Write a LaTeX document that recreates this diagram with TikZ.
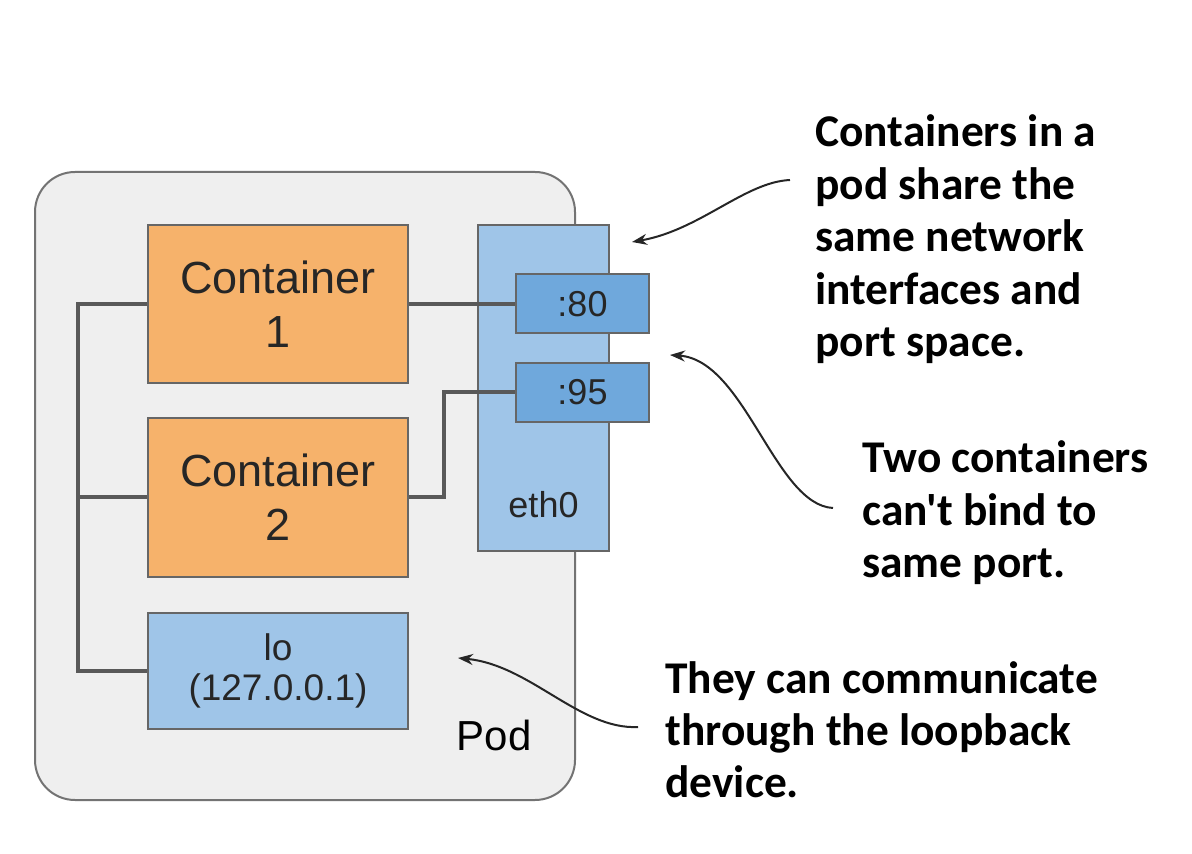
\documentclass[tikz,border=0pt]{standalone}
\usepackage{fontspec}
\setmainfont{Liberation Sans}
\newfontfamily\notefont{Carlito}
\usetikzlibrary{arrows.meta}

\definecolor{podfill}{HTML}{EFEFEF}
\definecolor{orangebox}{HTML}{F6B26B}
\definecolor{bluebox}{HTML}{9FC5E8}
\definecolor{portbox}{HTML}{6FA8DC}
\definecolor{wiregray}{HTML}{595959}

\tikzset{
  box/.style={draw=black!60, line width=1pt, inner sep=0pt, align=center, text=black!85},
  cbox/.style={box, fill=orangebox, minimum width=130, minimum height=79, font=\fontsize{22.5}{27}\selectfont},
  ifbox/.style={box, fill=bluebox, font=\fontsize{18.5}{21}\selectfont},
  portbx/.style={box, fill=portbox, minimum width=66.5, minimum height=29.5, font=\fontsize{18}{21}\selectfont},
  wire/.style={draw=wiregray, line width=2pt},
  note/.style={anchor=base west, align=left, inner sep=0pt, font=\notefont\bfseries\fontsize{22.7}{26}\selectfont},
  notearrow/.style={draw=black!85, line width=1pt, -{Stealth[length=7.5pt,width=5.5pt]}}
}

\begin{document}
\begin{tikzpicture}[x=0.5pt,y=0.5pt,yscale=-1]
    \useasboundingbox (0,0) rectangle (1192,854);

    % Pod
    \draw [fill=podfill, draw=black!55, line width=1pt, rounded corners=20] (35,172) rectangle (575,800);
    \node (podlbl) at (494,735) {\fontsize{21}{25}\selectfont Pod};

    % Containers and loopback
    \node [cbox] (c1) at (278,304) {Container\\1};
    \node [cbox] (c2) at (278,497.5) {Container\\2};
    \node [ifbox, minimum width=130, minimum height=58] (lo) at (278,671) {lo\\[-1pt](127.0.0.1)};

    % eth0 and its ports
    \node [ifbox, minimum width=65.5, minimum height=162.5] (eth) at (543.5,388) {};
    \node [font=\fontsize{18}{21}\selectfont, text=black!85] (ethlbl) at (543.5,505) {eth0};

    % Wires
    \coordinate (busb) at (78,671);
    \draw [wire] (c1.west) -| (busb) -- (lo.west);
    \draw [wire] (c2.west) -- (c2.west -| busb);
    \coordinate (p80w) at (515,304);
    \coordinate (p95w) at (515,392.5);
    \draw [wire] (c1.east) -- (p80w);
    \draw [wire] (c2.east) -- ++(35,0) |- (p95w);

    \node [portbx, anchor=west] (p80) at (p80w) {:80};
    \node [portbx, anchor=west] (p95) at (p95w) {:95};

    % Text Node (anchored at the baseline of the last line)
    \node [note, font=\notefont\bfseries\fontsize{22.7}{26.25}\selectfont] (n1) at (815,357) {Containers in a\\pod share the\\same network\\interfaces and\\port space.};
    % Text Node
    \node [note] (n2) at (862,577) {Two containers\\can't bind to\\same port.};
    % Text Node
    \node [note] (n3) at (665,797) {They can communicate\\through the loopback\\device.};

    % Curve Lines
    \coordinate (s1) at (790,180);
    \coordinate (t1) at (632,242);
    \draw [notearrow] (s1) .. controls (745,182) and (700,230) .. (t1);
    \coordinate (s2) at (833,508);
    \coordinate (t2) at (670,355);
    \draw [notearrow] (s2) .. controls (775,505) and (745,360) .. (t2);
    \coordinate (s3) at (638,727);
    \coordinate (t3) at (458,658);
    \draw [notearrow] (s3) .. controls (580,730) and (530,665) .. (t3);

\end{tikzpicture}
\end{document}
